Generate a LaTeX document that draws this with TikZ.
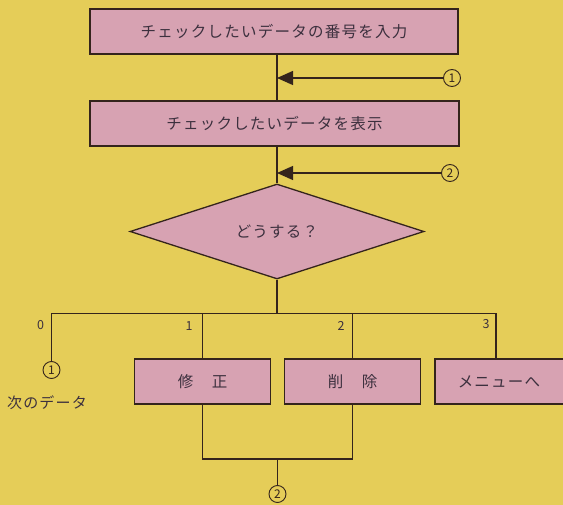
\documentclass[tikz,border=0pt]{standalone}
\usepackage{fontspec}
\setmainfont{Noto Sans CJK JP}
\newfontfamily\spacedjp[LetterSpace=8]{Noto Sans CJK JP}
\usetikzlibrary{arrows.meta,shapes.geometric}
\definecolor{bgyellow}{RGB}{229,205,88}
\definecolor{boxpink}{RGB}{215,162,178}
\definecolor{inkline}{RGB}{52,36,28}
\definecolor{inktext}{RGB}{60,48,62}
\begin{document}
\begin{tikzpicture}[x=1pt,y=-1pt,
  procbox/.style={draw=inkline,fill=boxpink,line width=1.3pt,minimum width=368pt,minimum height=45pt,inner sep=0pt,text=inktext,font=\spacedjp\fontsize{15.5}{17}\selectfont},
  smallbox/.style={procbox,minimum width=136pt},
  decide/.style={draw=inkline,fill=boxpink,line width=1.3pt,diamond,aspect=3.09,inner sep=0pt,minimum width=294pt,minimum height=95pt,text=inktext,font=\spacedjp\fontsize{15.5}{17}\selectfont},
  conn/.style={draw=inkline,fill=none,circle,line width=0.9pt,minimum size=17pt,inner sep=0pt,text=inkline,font=\fontsize{12}{12}\selectfont},
  wire/.style={draw=inkline,line width=1.3pt},
  feed/.style={wire,-{Triangle[length=16pt,width=14pt]}},
  numlab/.style={text=inktext,font=\fontsize{12.5}{13}\selectfont,inner sep=0pt}]
\fill[bgyellow] (0,0) rectangle (563,505);
\useasboundingbox (0,0) rectangle (563,505);
\begin{scope}
\clip (0,0) rectangle (563,505);
\node[procbox] (b1) at (274,31.5) {チェックしたいデータの番号を入力};
\node[procbox,minimum width=369pt] (b2) at (274.5,123.5) {チェックしたいデータを表示};
\node[decide] (d) at (277,231.5) {どうする？};
\node[conn] (c1) at (452,78) {1};
\node[conn] (c2) at (450,173) {2};
\node[smallbox] (m1) at (202.6,381.5) {修\hspace{1.2em}正};
\node[smallbox] (m2) at (352.6,381.5) {削\hspace{1.2em}除};
\node[smallbox] (m3) at (503,381.5) {メニューへ\hspace*{8pt}};
\node[conn] (c3) at (51.5,370) {1};
\node[conn] (c4) at (277.5,494) {2};
\node[text=inktext,font=\spacedjp\fontsize{15}{16}\selectfont,inner sep=0pt] (nx) at (47,403) {次のデータ};
\node[numlab] (l0) at (40.5,325) {0};
\node[numlab] (l1) at (189,326) {1};
\node[numlab] (l2) at (341,326) {2};
\node[numlab] (l3) at (486,324) {3};
\coordinate (a1) at (277,78);
\coordinate (a2) at (277,173);
\coordinate (j) at (277,313.5);
\coordinate (jl) at (51.5,313.5);
\coordinate (jr) at (496,313.5);
\coordinate (jb) at (277.5,459);
\coordinate (jb1) at (202.6,459);
\coordinate (jb2) at (352.6,459);
% main flow
\draw[wire] (b1.south -| a1) -- (b2.north -| a1);
\draw[wire] (b2.south -| a2) -- (d.north);
\draw[feed] (c1.west) -- (a1);
\draw[feed] (c2.west) -- (a2);
\draw[wire] (d.south) -- (j);
\draw[wire] (c3.north) -- (jl) -- (jr) -- (m3.north -| jr);
\draw[wire] (m1.north) -- (m1.north |- j);
\draw[wire] (m2.north) -- (m2.north |- j);
\draw[wire] (m1.south) -- (jb1) -- (jb2) -- (m2.south);
\draw[wire] (jb) -- (c4.north);
\end{scope}
\end{tikzpicture}
\end{document}
